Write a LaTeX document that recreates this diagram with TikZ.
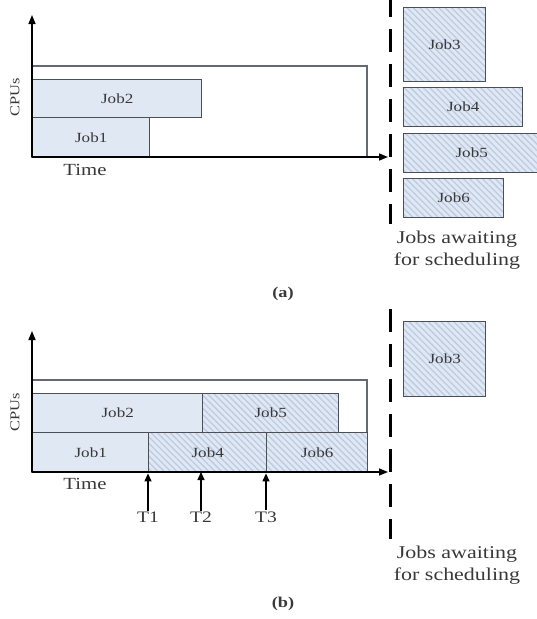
\documentclass[tikz,border=0pt]{standalone}
\usepackage{fontspec}
\setmainfont{Liberation Serif}[FakeStretch=1.22]
\usetikzlibrary{patterns.meta,arrows.meta}
\definecolor{jobfill}{HTML}{E0E8F4}
\definecolor{hatchc}{HTML}{BCCBE2}
\definecolor{boxline}{HTML}{4A4F58}
\definecolor{txt}{HTML}{383838}
\begin{document}
\begin{tikzpicture}[x=1pt,y=-1pt,
  job/.style={draw=boxline,line width=1.4pt,fill=jobfill,anchor=north west,
    inner sep=0pt,font=\fontsize{14}{15}\selectfont,text=txt},
  hjob/.style={job,preaction={fill=jobfill},
    pattern={Lines[angle=-45,distance=4.5pt,line width=1.3pt]},pattern color=hatchc},
  outerframe/.style={draw=boxline!85,line width=1.2pt},
  axisline/.style={line width=1.5pt,-{Triangle[length=9pt,width=7pt]}},
  tarrow/.style={line width=1.2pt,-{Triangle[length=8pt,width=7pt]}},
  sepline/.style={line width=3pt,dash pattern=on 23pt off 12pt},
  lbl/.style={font=\fontsize{17}{22}\selectfont,text=txt},
  wlbl/.style={font=\fontsize{18}{22}\selectfont,text=txt,align=center},
  tlbl/.style={font=\fontsize{16}{18}\selectfont,text=txt,inner sep=1pt},
  capt/.style={font=\bfseries\fontsize{15}{17}\selectfont,text=txt},
  cpu/.style={rotate=90,font=\fontsize{13.5}{15}\selectfont,text=txt},
]
\useasboundingbox (0,0) rectangle (537,619);
% ---------- (a)
\coordinate (oa) at (32,157);
\coordinate (yat) at (32,15);
\coordinate (xat) at (388,157);
\draw[outerframe] (32,66) rectangle (367,157);
\node[job,minimum width=169pt,minimum height=38pt] (a2) at (32,79) {Job2};
\node[job,minimum width=117pt,minimum height=40pt] (a1) at (32,117) {Job1};
\draw[axisline] (oa) -- (yat);
\draw[axisline] (oa) -- (xat);
\node[cpu] (acpu) at (15,97) {CPUs};
\node[lbl] (atime) at (85,170) {Time};
\coordinate (sa1) at (390,-6);
\coordinate (sa2) at (390,224);
\draw[sepline] (sa1) -- (sa2);
\node[hjob,minimum width=82pt,minimum height=74pt] (a3) at (403,7) {Job3};
\node[hjob,minimum width=119pt,minimum height=39pt] (a4) at (403,87) {Job4};
\node[hjob,minimum width=136pt,minimum height=39pt] (a5) at (403,133) {Job5};
\node[hjob,minimum width=100pt,minimum height=39pt] (a6) at (403,178) {Job6};
\node[wlbl] (await) at (457,250) {Jobs awaiting\\for scheduling};
\node[capt] (capa) at (283,294) {(a)};
% ---------- (b)
\coordinate (ob) at (32,472);
\coordinate (ybt) at (32,331);
\coordinate (xbt) at (388,472);
\draw[outerframe] (32,380) rectangle (367,472);
\node[job,minimum width=170pt,minimum height=39pt] (b2) at (32,393) {Job2};
\node[hjob,minimum width=136pt,minimum height=39pt] (b5) at (202,393) {Job5};
\node[job,minimum width=116pt,minimum height=40pt] (b1) at (32,432) {Job1};
\node[hjob,minimum width=118pt,minimum height=40pt] (b4) at (148,432) {Job4};
\node[hjob,minimum width=101pt,minimum height=40pt] (b6) at (266,432) {Job6};
\draw[axisline] (ob) -- (ybt);
\draw[axisline] (ob) -- (xbt);
\node[cpu] (bcpu) at (15,412) {CPUs};
\node[lbl] (btime) at (85,484) {Time};
\node[tlbl] (t1) at (148,517) {T1};
\node[tlbl] (t2) at (201,517) {T2};
\node[tlbl] (t3) at (266,517) {T3};
\coordinate (t2tip) at (201,472);
\draw[tarrow] (t1.north) -- (t1.north |- b1.south east);
\draw[tarrow] (t2.north) -- (t2tip);
\draw[tarrow] (t3.north) -- (t3.north |- b4.south east);
\coordinate (sb1) at (390,309);
\coordinate (sb2) at (390,539);
\draw[sepline] (sb1) -- (sb2);
\node[hjob,minimum width=82pt,minimum height=75pt] (b3) at (403,321) {Job3};
\node[wlbl] (bwait) at (457,565) {Jobs awaiting\\for scheduling};
\node[capt] (capb) at (283,604) {(b)};
\end{tikzpicture}
\end{document}
